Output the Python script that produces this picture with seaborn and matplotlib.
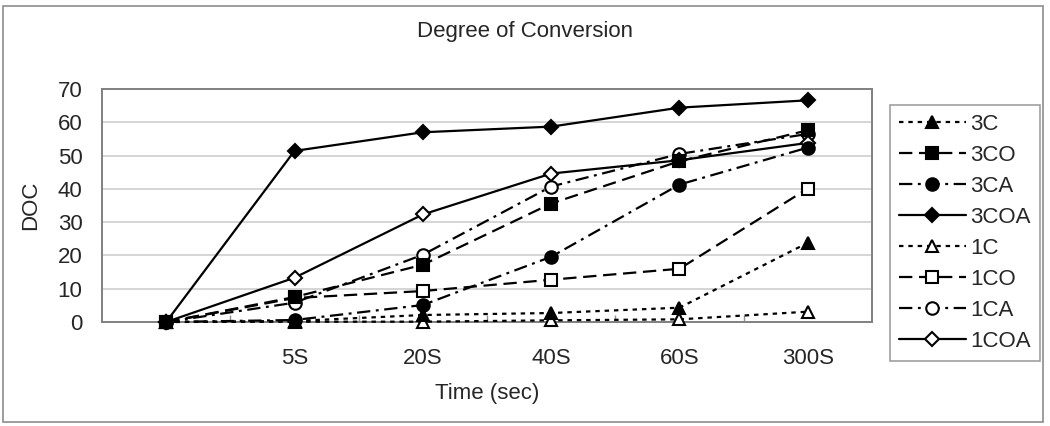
import numpy as np
import pandas as pd
import seaborn as sns
import matplotlib.pyplot as plt
from matplotlib.patches import Rectangle

# sampling times (first category has no label)
times = ["", "5S", "20S", "40S", "60S", "300S"]

doc_3C = [0, 0.3, 2.1, 2.7, 4.3, 23.8]
doc_3CO = [0, 7.5, 17.2, 35.6, 48.3, 57.6]
doc_3CA = [0, 0.6, 5.1, 19.6, 41.3, 52.4]
doc_3COA = [0, 51.4, 57.0, 58.7, 64.4, 66.6]
doc_1C = [0, 0.1, 0.1, 0.5, 0.8, 3.1]
doc_1CO = [0, 7.2, 9.3, 12.7, 16.0, 40.1]
doc_1CA = [0, 5.8, 20.2, 40.7, 50.5, 56.5]
doc_1COA = [0, 13.3, 32.3, 44.6, 48.6, 53.8]

series = {"3C": doc_3C, "3CO": doc_3CO, "3CA": doc_3CA, "3COA": doc_3COA,
          "1C": doc_1C, "1CO": doc_1CO, "1CA": doc_1CA, "1COA": doc_1COA}

rows = []
for name, vals in series.items():
    for i, v in enumerate(vals):
        rows.append({"series": name, "pos": i, "DOC": v})
df = pd.DataFrame(rows)

dot = (0, (2.0, 2.2))
dash = (0, (6, 3))
dashdot = (0, (6, 2.5, 1.3, 2.5))
styles = {"3C": ("^", True, dot), "3CO": ("s", True, dash),
          "3CA": ("o", True, dashdot), "3COA": ("D", True, "-"),
          "1C": ("^", False, dot), "1CO": ("s", False, dash),
          "1CA": ("o", False, dashdot), "1COA": ("D", False, "-")}
msize = {"^": 9, "s": 8.5, "o": 9, "D": 7.5}
# 3CO sits on top where markers overlap
zord = {"3C": 8, "3CO": 12, "3CA": 9, "3COA": 10,
        "1C": 4, "1CO": 5, "1CA": 6, "1COA": 7}

sns.set_theme(style="white")
plt.rcParams['font.family'] = ['Liberation Sans', 'DejaVu Sans']

fig = plt.figure(figsize=(10.5, 4.26), dpi=100)
ax = fig.add_axes([102/1050, 1-322/426, (872-102)/1050, (322-89)/426])

for name in series:
    m, filled, ls = styles[name]
    sns.lineplot(data=df[df["series"] == name], x="pos", y="DOC", ax=ax,
                 label=name, color="black", linewidth=1.6, linestyle=ls,
                 marker=m, markersize=msize[m],
                 markerfacecolor="black" if filled else "white",
                 markeredgecolor="black", markeredgewidth=1.5,
                 clip_on=False, zorder=zord[name])

ax.set_xlim(-0.5, 5.5)
ax.set_ylim(0, 70)
ax.set_yticks(range(0, 71, 10))
ax.set_xticks(range(len(times)))
ax.set_xticklabels(times)
ax.set_xticks(np.arange(0.5, 5, 1), minor=True)
ax.tick_params(axis="x", which="major", length=0, pad=19, labelsize=16)
ax.tick_params(axis="x", which="minor", direction="in", length=5,
               color="#909090", width=1, bottom=True)
ax.tick_params(axis="y", length=0, pad=14, labelsize=16)
ax.yaxis.grid(True, color="#d2d2d2", lw=1.3)
ax.set_axisbelow(True)
for sp in ax.spines.values():
    sp.set_color("#808080")
    sp.set_linewidth(1.4)

ax.set_xlabel("Time (sec)", fontsize=16, labelpad=10)
ax.set_ylabel("DOC", fontsize=16, labelpad=12)
fig.text(525/1050, 1-31/426, "Degree of Conversion", fontsize=16,
         ha="center", va="center")

leg = ax.legend(loc="upper left", bbox_to_anchor=(890/1050, 1-105/426),
                bbox_transform=fig.transFigure, borderaxespad=0,
                fontsize=16, frameon=True, fancybox=False, framealpha=1,
                edgecolor="#a0a0a0", handlelength=3.0, handletextpad=0.2,
                labelspacing=0.45, borderpad=0.4, numpoints=1)
leg.get_frame().set_linewidth(1.2)

fig.patches.append(Rectangle((3/1050, 4/426), 1040/1050, 416/426,
                             transform=fig.transFigure, fill=False,
                             ec="#8c8c8c", lw=1.2))

fig.savefig("out.png", dpi=100)
